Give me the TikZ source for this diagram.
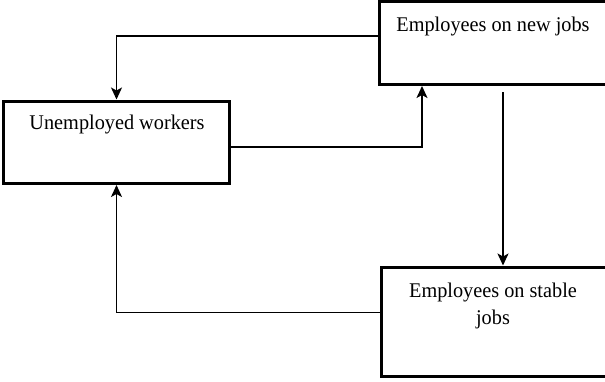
\documentclass[tikz,border=0pt]{standalone}
\usepackage{fontspec}
\setmainfont{Liberation Serif}[FakeStretch=0.97]
\usetikzlibrary{arrows.meta}
\begin{document}
\begin{tikzpicture}[x=1pt,y=-1pt,
  box/.style={draw, line width=3pt, inner sep=0pt, outer sep=1.5pt},
  conn/.style={line width=1.5pt, -{Stealth[length=12pt,width=11pt,inset=3pt]}},
  lbl/.style={font=\fontsize{20.9}{27}\selectfont, anchor=base, inner sep=0pt}]
\useasboundingbox (0,0) rectangle (605,381);
\fill[white] (0,0) rectangle (605,381);
% boxes
\node[box, minimum width=230.5pt, minimum height=83pt] (new) at (494.75,43) {};
\node[box, minimum width=226pt, minimum height=82.5pt] (unemp) at (116.5,142.25) {};
\node[box, minimum width=228.5pt, minimum height=109.5pt] (stable) at (495.75,321.75) {};
% texts
\node[lbl] (newtxt) at (493,31.3) {Employees on new jobs};
\node[lbl] (unemptxt) at (117,129.5) {Unemployed workers};
\node[lbl] (stabletxt1) at (493,297) {Employees on stable};
\node[lbl] (stabletxt2) at (493,324) {jobs};
% helper coordinates
\coordinate (y1) at (0,36);
\coordinate (y2) at (0,147);
\coordinate (x2) at (422,0);
\coordinate (s3) at (503,92);
\coordinate (y4) at (0,312.7);
% connectors
\draw[conn] (new.west |- y1) -| (unemp.north);
\draw[conn] (unemp.east |- y2) -| (new.south -| x2);
\draw[conn] (s3) -- (s3 |- stable.north);
\draw[conn] (stable.west |- y4) -| (unemp.south);
\end{tikzpicture}
\end{document}
